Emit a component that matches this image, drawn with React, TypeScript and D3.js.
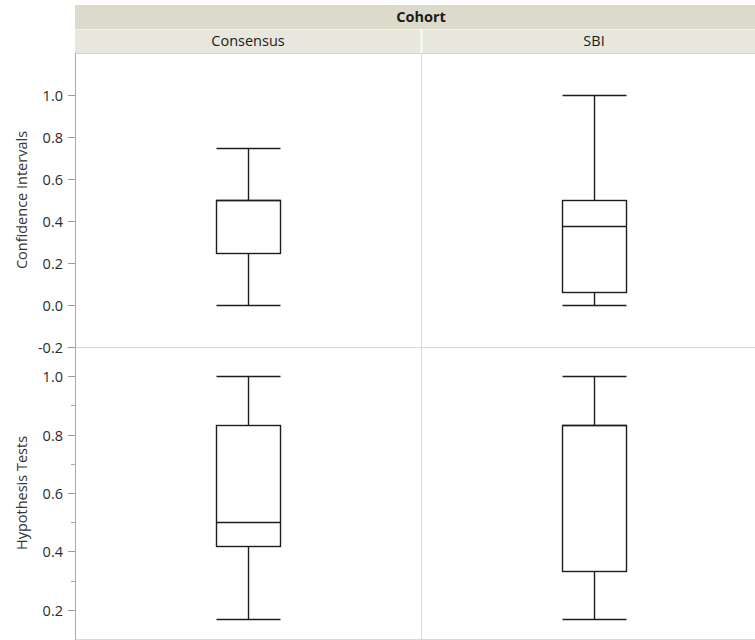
import * as d3 from "d3";

const cohorts = ["Consensus", "SBI"];
const measures = ["Confidence Intervals", "Hypothesis Tests"];

// five-number summaries, one entry per cohort
const ciMin = [0, 0];
const ciQ1 = [0.25, 0.0625];
const ciMedian = [0.5, 0.375];
const ciQ3 = [0.5, 0.5];
const ciMax = [0.75, 1.0];

const htMin = [0.167, 0.167];
const htQ1 = [0.417, 0.333];
const htMedian = [0.5, 0.833];
const htQ3 = [0.833, 0.833];
const htMax = [1.0, 1.0];

const ciTicks = [-0.2, 0, 0.2, 0.4, 0.6, 0.8, 1.0];
const htTicks = [0.2, 0.4, 0.6, 0.8, 1.0];
const htMinorTicks = [0.3, 0.5, 0.7, 0.9];

const font = "'Open Sans', 'Noto Sans', sans-serif";
const fs = 14.5;

export default function App() {
  const width = 755;
  const height = 640;
  const left = 75;
  const right = 767;
  const top = 53;
  const split = 347;
  const bottom = 639;

  const x = d3.scaleBand().domain(cohorts).range([left, right]);
  const boxW = 64;

  const panels = [
    {
      name: measures[0],
      y: d3.scaleLinear().domain([-0.2, 1.2]).range([split, top]),
      ticks: ciTicks,
      minor: [] as number[],
      stats: cohorts.map((c, i) => ({ c, min: ciMin[i], q1: ciQ1[i], med: ciMedian[i], q3: ciQ3[i], max: ciMax[i] })),
    },
    {
      name: measures[1],
      y: d3.scaleLinear().domain([0.1, 1.1]).range([bottom, split]),
      ticks: htTicks,
      minor: htMinorTicks,
      stats: cohorts.map((c, i) => ({ c, min: htMin[i], q1: htQ1[i], med: htMedian[i], q3: htQ3[i], max: htMax[i] })),
    },
  ];

  // plain hyphen for negatives, like the original
  const fmt = (v: number) => d3.format(".1f")(v).replace("\u2212", "-");
  const snap = (v: number) => Math.round(v) + 0.5;

  return (
    <svg width={width} height={height} style={{ position: "absolute", left: 0, top: 0 }} fontFamily={font}>
      <rect x={0} y={0} width={width} height={height} fill="#fff" />
      {/* header bands */}
      <rect x={left} y={5} width={right - left} height={24} fill="#dcdacb" />
      <rect x={left} y={29} width={right - left} height={24} fill="#e8e7de" />
      <line x1={left} x2={right} y1={29.5} y2={29.5} stroke="#f2f1ea" />
      <line x1={left} x2={right} y1={53.5} y2={53.5} stroke="#d6d4c6" />
      <text x={(left + right) / 2} y={22} textAnchor="middle" fontSize={fs} fontWeight="bold" fill="#1a1a1a">Cohort</text>
      {cohorts.map((c) => (
        <text key={c} x={x(c)! + x.bandwidth() / 2} y={46} textAnchor="middle" fontSize={fs} fill="#1a1a1a">{c}</text>
      ))}
      <line x1={x("SBI")! + 0.5} x2={x("SBI")! + 0.5} y1={29} y2={53} stroke="#fbfbf8" strokeWidth={2} />

      {/* column divider and panel divider */}
      <line x1={x("SBI")! + 0.5} x2={x("SBI")! + 0.5} y1={top} y2={bottom} stroke="#dcdcdc" />
      <line x1={left - 8} x2={right} y1={split + 0.5} y2={split + 0.5} stroke="#d8d8d8" />
      <line x1={left} x2={right} y1={bottom + 0.5} y2={bottom + 0.5} stroke="#d8d8d8" />
      <line x1={left + 0.5} x2={left + 0.5} y1={top} y2={height} stroke="#a8a8a8" />

      {panels.map((p) => {
        const [r0, r1] = p.y.range();
        const mid = (r0 + r1) / 2;
        return (
          <g key={p.name}>
            <text transform={`translate(27,${mid}) rotate(-90)`} textAnchor="middle" fontSize={fs} fill="#333">{p.name}</text>
            {p.ticks.map((t) => (
              <g key={t} transform={`translate(0,${snap(p.y(t))})`}>
                <line x1={left - 7} x2={left} stroke="#999" />
                <text x={left - 12} dy="0.35em" textAnchor="end" fontSize={fs} fill="#2b2b2b">{fmt(t)}</text>
              </g>
            ))}
            {p.minor.map((t) => (
              <line key={t} x1={left - 4} x2={left} y1={snap(p.y(t))} y2={snap(p.y(t))} stroke="#aaa" />
            ))}
            {p.stats.map((s) => {
              const cx = Math.round(x(s.c)! + x.bandwidth() / 2) + 0.5;
              const x0 = cx - boxW / 2;
              const x1 = cx + boxW / 2;
              const st = { stroke: "#1e1e1e", strokeWidth: 1.4 };
              const yMax = snap(p.y(s.max));
              const yMin = snap(p.y(s.min));
              const yQ3 = snap(p.y(s.q3));
              const yQ1 = snap(p.y(s.q1));
              const yMed = snap(p.y(s.med));
              return (
                <g key={s.c}>
                  <line x1={cx} x2={cx} y1={yMax} y2={yQ3} {...st} />
                  <line x1={cx} x2={cx} y1={yQ1} y2={yMin} {...st} />
                  <line x1={x0} x2={x1} y1={yMax} y2={yMax} {...st} />
                  <line x1={x0} x2={x1} y1={yMin} y2={yMin} {...st} />
                  <rect x={x0} y={yQ3} width={boxW} height={yQ1 - yQ3} fill="#fff" {...st} />
                  <line x1={x0} x2={x1} y1={yMed} y2={yMed} {...st} />
                </g>
              );
            })}
          </g>
        );
      })}
    </svg>
  );
}
